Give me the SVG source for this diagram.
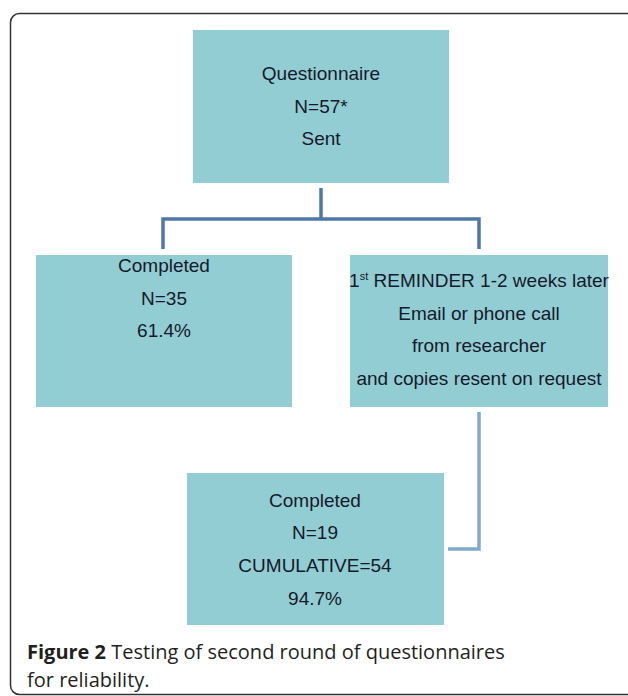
<svg xmlns="http://www.w3.org/2000/svg" width="628" height="696" viewBox="0 0 628 696">
<style>
.box{fill:#93cdd4;}
.t{font-family:"Liberation Sans",Arial,sans-serif;font-size:19px;fill:#151a2a;text-anchor:middle;}
.c1{fill:none;stroke:#4f78a8;stroke-width:3.5;}
.c2{fill:none;stroke:#7eacca;stroke-width:3.5;}
.cap{font-family:"Open Sans","Noto Sans",sans-serif;font-size:20px;fill:#231f20;}
</style>
<rect width="628" height="696" fill="#fff"/>
<rect x="10.5" y="13.5" width="640" height="681" rx="9" fill="none" stroke="#333" stroke-width="1.5"/>
<g id="connectors">
<path class="c1" d="M321,188 V219 M163,249 V219 H479 V249"/>
<path class="c2" d="M479,412 V549 H448"/>
</g>
<g id="n1">
<rect class="box" x="193" y="30" width="256" height="153"/>
<text class="t" x="321" y="80">Questionnaire</text>
<text class="t" x="321" y="113">N=57*</text>
<text class="t" x="321" y="145">Sent</text>
</g>
<g id="n2">
<rect class="box" x="36" y="255" width="256" height="152"/>
<text class="t" x="164" y="272">Completed</text>
<text class="t" x="164" y="305">N=35</text>
<text class="t" x="164" y="337">61.4%</text>
</g>
<g id="n3">
<rect class="box" x="350" y="255" width="258" height="152"/>
<text class="t" x="479" y="287">1<tspan font-size="11" dy="-7">st</tspan><tspan dy="7"> REMINDER 1-2 weeks later</tspan></text>
<text class="t" x="479" y="320">Email or phone call</text>
<text class="t" x="479" y="352">from researcher</text>
<text class="t" x="479" y="385">and copies resent on request</text>
</g>
<g id="n4">
<rect class="box" x="187" y="473" width="257" height="152"/>
<text class="t" x="315" y="507">Completed</text>
<text class="t" x="315" y="539">N=19</text>
<text class="t" x="315" y="572">CUMULATIVE=54</text>
<text class="t" x="315" y="605">94.7%</text>
</g>
<g id="caption">
<text class="cap" x="27" y="659"><tspan font-weight="bold">Figure 2</tspan> Testing of second round of questionnaires</text>
<text class="cap" x="27" y="687">for reliability.</text>
</g>
</svg>
